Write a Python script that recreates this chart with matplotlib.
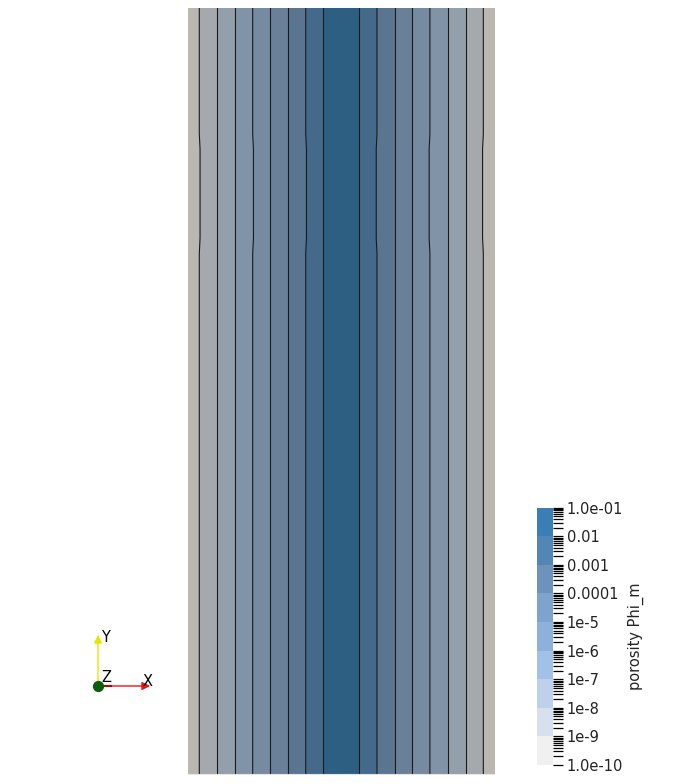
import numpy as np
import matplotlib.pyplot as plt
from matplotlib.colors import ListedColormap, LogNorm
from matplotlib.cm import ScalarMappable
from matplotlib.ticker import LogLocator, NullFormatter

# colour bar: one colour per decade, 1e-10 .. 1e-1
levels = [1e-10, 1e-9, 1e-8, 1e-7, 1e-6, 1e-5, 1e-4, 1e-3, 1e-2, 1e-1]
tick_labels = ["1.0e-10", "1e-9", "1e-8", "1e-7", "1e-6", "1e-5",
               "0.0001", "0.001", "0.01", "1.0e-01"]
bar_colors = ["#f0f0f0", "#d7e1ee", "#bfd1ea", "#a3c1e6", "#8eb0db",
              "#7fa3cc", "#6d93bd", "#5286b7", "#3b7db5"]

# same decades as they look in the lit render (edge -> centre)
shaded_colors = ["#bab7b0", "#a5a9ad", "#939fab", "#8194a7", "#768ba2",
                 "#6a8098", "#5a7590", "#446a8b", "#2d5f82"]

# contour positions across the column (x in 0..1), levels 1e-9 .. 1e-2
contour_left = [0.0368, 0.0954, 0.154, 0.2107, 0.268, 0.3267, 0.3834, 0.4407]
contour_right = [0.962, 0.9046, 0.846, 0.788, 0.7306, 0.673, 0.6156, 0.558]

# small kink in some contours between these heights
kink_y = [1.70, 1.75, 2.04, 2.09]
kink_lines = [0, 3, 6]
kink_shift = 0.0025

W, H = 683, 784
fig = plt.figure(figsize=(W / 100, H / 100), dpi=100)

ax = fig.add_axes([188 / W, 9 / H, 307 / W, 767 / H])
ax.set_xlim(0, 1)
ax.set_ylim(0, 2.5)
ax.axis("off")

# nested bands, outermost first
ax.axvspan(0, 1, color=shaded_colors[0], lw=0)
for k in range(8):
    ax.axvspan(contour_left[k], contour_right[k], color=shaded_colors[k + 1], lw=0)

ys = [0, kink_y[0], kink_y[1], kink_y[2], kink_y[3], 2.5]
for k in range(8):
    s = kink_shift if k in kink_lines else 0
    for x0, sign in [(contour_left[k], 1), (contour_right[k], -1)]:
        xs = [x0, x0, x0 + sign * s, x0 + sign * s, x0, x0]
        ax.plot(xs, ys, color="#1a1a1a", lw=0.8)

# light rim at the bottom of the column
ax.axhline(0.002, color="#e6e6e6", lw=0.8)

# colour bar
cax = fig.add_axes([537.3 / W, 19 / H, 15.4 / W, 257.3 / H])
sm = ScalarMappable(norm=LogNorm(levels[0], levels[-1]), cmap=ListedColormap(bar_colors))
cb = fig.colorbar(sm, cax=cax)
cb.outline.set_visible(False)
cb.set_ticks(levels, labels=tick_labels)
cax.yaxis.set_minor_locator(LogLocator(base=10, subs=np.arange(2, 10), numticks=100))
cax.yaxis.set_minor_formatter(NullFormatter())
cax.tick_params(which="both", direction="out", length=7, width=0.9, color="black")
cax.tick_params(which="major", labelsize=10.5, pad=3, labelcolor="#222222")
fig.text(636 / W, 1 - 636 / H, "porosity Phi_m", rotation=90,
         ha="center", va="center", fontsize=10.5, color="#222222")

# orientation triad (pixel space overlay)
ov = fig.add_axes([0, 0, 1, 1])
ov.set_xlim(0, W)
ov.set_ylim(H, 0)
ov.axis("off")
ov.annotate("", xy=(98, 632), xytext=(98, 686),
            arrowprops=dict(arrowstyle="-|>", color="#e6e600", lw=1, mutation_scale=12))
ov.annotate("", xy=(153, 686), xytext=(98, 686),
            arrowprops=dict(arrowstyle="-|>", color="#ee1111", lw=1, mutation_scale=12))
ov.plot([98, 111], [686, 686], color="black", lw=1.5)
ov.scatter([98], [686], s=50, color="#0b5e0b", zorder=5)
ov.text(101, 637, "Y", fontsize=10.5, ha="left", va="center")
ov.text(101, 678, "Z", fontsize=10.5, ha="left", va="center")
ov.text(143, 682, "X", fontsize=10.5, ha="left", va="center")

fig.savefig("out.png", dpi=100)
